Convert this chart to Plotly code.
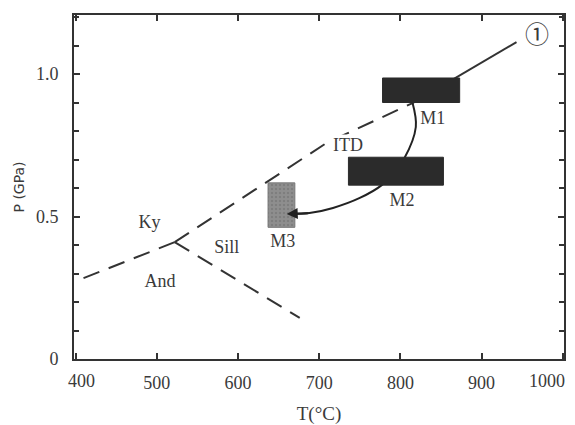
import plotly.graph_objects as go

# --- data (T in °C, P in GPa) ---
and_ky_T = [522, 409]
and_ky_P = [0.41, 0.283]
sill_and_T = [522, 676]
sill_and_P = [0.41, 0.144]
ky_sill_dash_T = [522, 709, 815]
ky_sill_dash_P = [0.41, 0.758, 0.898]
ky_sill_solid_T = [815, 943]
ky_sill_solid_P = [0.898, 1.112]

path_T = [815, 819, 805, 792, 777, 750, 717, 688, 660]
path_P = [0.898, 0.814, 0.705, 0.656, 0.61, 0.565, 0.530, 0.512, 0.509]

box_names = ["M1", "M2", "M3"]
box_T0 = [778, 736, 637]
box_T1 = [873, 853, 670]
box_P0 = [0.90, 0.61, 0.462]
box_P1 = [0.986, 0.708, 0.618]

label_text = ["Ky", "Sill", "And", "M1", "M2", "M3"]
label_T = [491, 586, 504, 840, 802, 655]
label_P = [0.477, 0.389, 0.267, 0.839, 0.551, 0.41]

itd_T, itd_P = 736, 0.751
circ_T, circ_P = 968, 1.147

x_ticks = [400, 500, 600, 700, 800, 900, 1000]
x_ticktext = ["400", "500", "600", "700", "800", "900", "1000"]
y_ticks = [0, 0.5, 1.0]
y_ticktext = ["0", "0.5", "1.0"]

LC = "#333333"
TC = "#3a3a3a"
SERIF = "Liberation Serif, Times New Roman, serif"

fig = go.Figure()
dash = "17px,10px"
for xs, ys, d in [(and_ky_T, and_ky_P, dash), (sill_and_T, sill_and_P, dash),
                  (ky_sill_dash_T, ky_sill_dash_P, dash), (ky_sill_solid_T, ky_sill_solid_P, "solid")]:
    fig.add_trace(go.Scatter(x=xs, y=ys, mode="lines",
                             line=dict(color=LC, width=2, dash=d),
                             hoverinfo="skip", showlegend=False))

fig.add_trace(go.Scatter(x=path_T, y=path_P, mode="lines",
                         line=dict(color="#222222", width=2, shape="spline"),
                         hoverinfo="skip", showlegend=False))

box_fill = ["#2b2b2b", "#2b2b2b", "#8a8a8a"]
for i, name in enumerate(box_names):
    xs = [box_T0[i], box_T1[i], box_T1[i], box_T0[i], box_T0[i]]
    ys = [box_P0[i], box_P0[i], box_P1[i], box_P1[i], box_P0[i]]
    kw = {}
    if name == "M3":
        kw["fillpattern"] = dict(shape=".", bgcolor="#8e8e8e", fgcolor="#6e6e6e", size=4, solidity=0.3)
    fig.add_trace(go.Scatter(x=xs, y=ys, mode="lines", fill="toself",
                             fillcolor=box_fill[i],
                             line=dict(color=box_fill[i] if name != "M3" else "#777777", width=1),
                             hoverinfo="skip", showlegend=False, **kw))

# arrow head at M3
fig.add_annotation(x=path_T[-1], y=path_P[-1], ax=path_T[-2], ay=path_P[-2],
                   xref="x", yref="y", axref="x", ayref="y", text="",
                   showarrow=True, arrowhead=2, arrowsize=1.1, arrowwidth=2,
                   arrowcolor="#222222", standoff=0)

fig.add_trace(go.Scatter(x=label_T, y=label_P, mode="text", text=label_text,
                         textfont=dict(family=SERIF, size=18, color=TC),
                         hoverinfo="skip", showlegend=False))

fig.add_annotation(x=itd_T, y=itd_P, xref="x", yref="y", text="ITD", showarrow=False,
                   bgcolor="white", borderpad=0,
                   font=dict(family=SERIF, size=18, color=TC))

fig.add_annotation(x=circ_T, y=circ_P, xref="x", yref="y", text="①", showarrow=False,
                   font=dict(family="Noto Sans CJK SC, DejaVu Sans", size=24, color=TC))

# end tick labels are nudged inward (as in the original figure)
shown_ticktext = [t if t not in (x_ticktext[0], x_ticktext[-1]) else "" for t in x_ticktext]
for val, txt, dx in [(x_ticks[0], x_ticktext[0], 6), (x_ticks[-1], x_ticktext[-1], -16)]:
    fig.add_annotation(x=val, y=0, xref="x", yref="paper", text=txt, showarrow=False,
                       yanchor="top", yshift=-10, xshift=dx,
                       font=dict(family=SERIF, size=18, color=TC))

axis_common = dict(showline=True, linewidth=2, linecolor=LC, mirror="allticks",
                   ticks="inside", tickcolor=LC, tickwidth=1.5, showgrid=False,
                   zeroline=False, automargin=False,
                   tickfont=dict(family=SERIF, size=18, color=TC))

fig.update_xaxes(range=[398, 1001.5], tickvals=x_ticks, ticktext=shown_ticktext,
                 ticklen=6, ticklabelstandoff=6,
                 title=dict(text="T(°C)", font=dict(family=SERIF, size=19, color=TC), standoff=16),
                 **axis_common)
fig.update_yaxes(range=[0, 1.207], tickvals=y_ticks, ticktext=y_ticktext, ticklen=6,
                 minor=dict(dtick=0.1, tick0=0, ticks="inside", ticklen=5, tickcolor=LC, tickwidth=1.5),
                 ticklabelstandoff=10,
                 title=dict(text="P (GPa)", font=dict(family="DejaVu Sans", size=14, color=TC), standoff=8),
                 **axis_common)

# page body has an 8px default margin, so the figure is sized/offset to compensate
fig.update_layout(width=567, height=417, margin=dict(l=66, r=11, t=7, b=66),
                  plot_bgcolor="white", paper_bgcolor="white", showlegend=False)

fig.write_html("out.html")
